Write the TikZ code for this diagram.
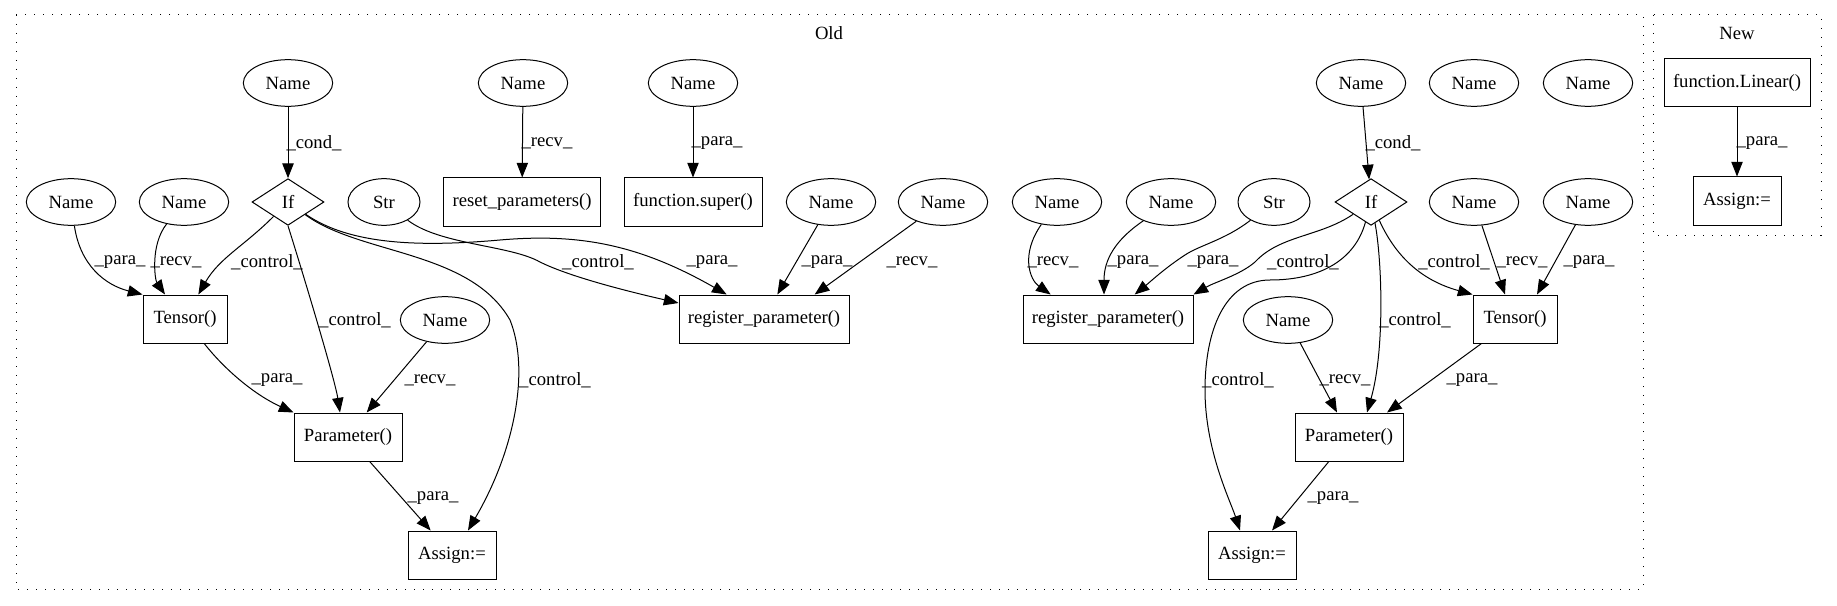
\documentclass[tikz,border=0pt]{standalone}
\usepackage{fontspec}
\setmainfont{Liberation Serif}
\usetikzlibrary{arrows.meta}
\usetikzlibrary{shapes.geometric}

\begin{document}
\begin{tikzpicture}[x=0.75pt,y=0.75pt,line width=0.75pt,font=\fontsize{14}{17}\selectfont,
    namenode/.style={draw,ellipse,minimum width=67pt,minimum height=35pt,inner sep=0pt},
    strnode/.style={draw,ellipse,minimum width=54pt,minimum height=35pt,inner sep=0pt},
    callnode/.style={draw,rectangle,minimum height=36pt,inner sep=0pt},
    ifnode/.style={draw,diamond,aspect=1.5,minimum width=54pt,minimum height=35pt,inner sep=0pt},
    flow/.style={-{Triangle[length=11pt,width=8.5pt]}},
    lbl/.style={inner sep=0pt},
    cluster/.style={dash pattern=on 1pt off 5.75pt}]

    \useasboundingbox (0,0) rectangle (1837,-606);

    % clusters
    \draw[cluster] (16,-15) rectangle (1643,-589);
    \draw[cluster] (1653,-15) rectangle (1821,-235);
    \node[lbl] (oldlabel) at (829,-33) {Old};
    \node[lbl] (newlabel) at (1737,-33) {New};

    % old, left part
    \node[namenode] (namecondl) at (288,-83) {Name};
    \node[namenode] (namereset) at (523,-83) {Name};
    \node[namenode] (namesuper) at (693,-83) {Name};
    \node[namenode] (nameparat) at (71,-202) {Name};
    \node[namenode] (namerecvt) at (184,-202) {Name};
    \node[ifnode] (ifl) at (288,-202) {If};
    \node[strnode] (strl) at (384,-202) {Str};
    \node[callnode,minimum width=118pt] (reset) at (522,-202) {reset\_parameters()};
    \node[callnode,minimum width=103.5pt] (super) at (693,-202) {function.super()};
    \node[namenode] (nameparar) at (831,-202) {Name};
    \node[namenode] (namerecvr) at (943,-202) {Name};
    \node[callnode,minimum width=63pt] (tensorl) at (185,-319) {Tensor()};
    \node[namenode] (nameprecvl) at (445,-320) {Name};
    \node[callnode,minimum width=127.5pt] (regl) at (764,-319) {register\_parameter()};
    \node[callnode,minimum width=81pt] (paraml) at (348,-437) {Parameter()};
    \node[callnode,minimum width=66pt] (assignl) at (452,-555) {Assign:=};

    % old, right part
    \node[namenode] (namecondr) at (1361,-83) {Name};
    \node[namenode] (namefreea) at (1474,-83) {Name};
    \node[namenode] (namefreeb) at (1588,-83) {Name};
    \node[namenode] (nameregrecv) at (1057,-202) {Name};
    \node[namenode] (nameregpara) at (1171,-202) {Name};
    \node[strnode] (strr) at (1274,-202) {Str};
    \node[ifnode] (ifr) at (1371,-202) {If};
    \node[namenode] (nametrecv) at (1474,-202) {Name};
    \node[namenode] (nametpara) at (1588,-202) {Name};
    \node[callnode,minimum width=127.5pt] (regr) at (1108,-319) {register\_parameter()};
    \node[namenode] (nameprecvr) at (1288,-320) {Name};
    \node[callnode,minimum width=63pt] (tensorr) at (1515,-319) {Tensor()};
    \node[callnode,minimum width=81pt] (paramr) at (1349,-437) {Parameter()};
    \node[callnode,minimum width=66pt] (assignr) at (1252,-555) {Assign:=};

    % new
    \node[callnode,minimum width=109.5pt] (linear) at (1737,-83) {function.Linear()};
    \node[callnode,minimum width=66pt] (assignn) at (1737,-201) {Assign:=};

    % edges, left
    \draw[flow] (namecondl) -- (ifl);
    \draw[flow] (namereset) -- (reset);
    \draw[flow] (namesuper) -- (super);
    \draw[flow] (nameparat) .. controls (80,-265) and (105,-285) .. (tensorl.north west);
    \draw[flow] (namerecvt) .. controls (150,-245) and (155,-280) .. ([xshift=-15pt]tensorl.north);
    \draw[flow] (ifl) to[out=-135,in=60] ([xshift=10pt]tensorl.north);
    \draw[flow] (ifl.south) .. controls (305,-280) and (335,-380) .. ([xshift=-6pt]paraml.north);
    \draw[flow] (ifl) .. controls (360,-255) and (470,-250) .. (510,-320)
        .. controls (530,-370) and (515,-450) .. ([xshift=12pt]assignl.north);
    \draw[flow] (ifl) .. controls (350,-245) and (420,-247) .. (500,-240)
        .. controls (580,-233) and (640,-245) .. ([xshift=-28pt]regl.north);
    \draw[flow] (strl) .. controls (440,-245) and (510,-245) .. (540,-262)
        .. controls (560,-272) and (600,-285) .. ([yshift=12pt]regl.west);
    \draw[flow] (nameparar) -- ([xshift=10pt]regl.north);
    \draw[flow] (namerecvr) -- ([xshift=38pt]regl.north);
    \draw[flow] (tensorl) .. controls (225,-370) and (255,-395) .. (paraml.north west);
    \draw[flow] (nameprecvl) -- ([xshift=14pt]paraml.north);
    \draw[flow] (paraml) -- ([xshift=-16pt]assignl.north);

    % edges, right
    \draw[flow] (namecondr) -- (ifr);
    \draw[flow] (nameregrecv) .. controls (1020,-255) and (1030,-280) .. ([xshift=-43pt]regr.north);
    \draw[flow] (nameregpara) .. controls (1115,-240) and (1104,-260) .. ([xshift=-3pt]regr.north);
    \draw[flow] (strr) .. controls (1225,-240) and (1200,-245) .. (1185,-255)
        .. controls (1165,-268) and (1150,-282) .. ([xshift=20pt]regr.north);
    \draw[flow] (ifr) .. controls (1320,-237) and (1280,-235) .. (1255,-262)
        .. controls (1240,-275) and (1215,-282) .. (regr.north east);
    \draw[flow] (ifr) .. controls (1355,-260) and (1320,-280) .. (1270,-280)
        .. controls (1225,-280) and (1205,-330) .. (1205,-390)
        .. controls (1205,-450) and (1230,-500) .. ([xshift=-9pt]assignr.north);
    \draw[flow] (ifr) .. controls (1382,-260) and (1385,-350) .. ([xshift=13.5pt]paramr.north);
    \draw[flow] (ifr) .. controls (1395,-255) and (1420,-280) .. (tensorr.north west);
    \draw[flow] (nametrecv) -- ([xshift=-7.5pt]tensorr.north);
    \draw[flow] (nametpara) -- ([xshift=16.5pt]tensorr.north);
    \draw[flow] (tensorr) -- ([xshift=28.5pt]paramr.north);
    \draw[flow] (nameprecvr) -- ([xshift=-9pt]paramr.north);
    \draw[flow] (paramr) -- ([xshift=15pt]assignr.north);

    % edge, new
    \draw[flow] (linear) -- (assignn);

    % labels
    \node[lbl] (lcondl) at (314,-143) {\_cond\_};
    \node[lbl] (lrecvreset) at (547,-143) {\_recv\_};
    \node[lbl] (lparasuper) at (717,-143) {\_para\_};
    \node[lbl] (lparatl) at (120,-262) {\_para\_};
    \node[lbl] (lrecvtl) at (176,-262) {\_recv\_};
    \node[lbl] (lctrltl) at (267,-262) {\_control\_};
    \node[lbl] (lctrlregl) at (598,-262) {\_control\_};
    \node[lbl] (lparastrl) at (712,-262) {\_para\_};
    \node[lbl] (lpararegl) at (827,-262) {\_para\_};
    \node[lbl] (lrecvregl) at (912,-262) {\_recv\_};
    \node[lbl] (lctrlpl) at (355,-320) {\_control\_};
    \node[lbl] (lctrlal) at (555,-380) {\_control\_};
    \node[lbl] (lparapl) at (277,-380) {\_para\_};
    \node[lbl] (lrecvpl) at (430,-380) {\_recv\_};
    \node[lbl] (lparaal) at (433,-498) {\_para\_};
    \node[lbl] (lcondr) at (1393,-143) {\_cond\_};
    \node[lbl] (lrecvregr) at (1053,-262) {\_recv\_};
    \node[lbl] (lpararegr) at (1133,-262) {\_para\_};
    \node[lbl] (lparastrr) at (1213,-262) {\_para\_};
    \node[lbl] (lctrlregr) at (1303,-262) {\_control\_};
    \node[lbl] (lctrltr) at (1454,-262) {\_control\_};
    \node[lbl] (lrecvtr) at (1522,-262) {\_recv\_};
    \node[lbl] (lparatr) at (1589,-262) {\_para\_};
    \node[lbl] (lctrlpr) at (1415,-320) {\_control\_};
    \node[lbl] (lctrlar) at (1238,-380) {\_control\_};
    \node[lbl] (lrecvpr) at (1345,-380) {\_recv\_};
    \node[lbl] (lparapr) at (1472,-380) {\_para\_};
    \node[lbl] (lparaar) at (1333,-498) {\_para\_};
    \node[lbl] (lparan) at (1762,-143) {\_para\_};
\end{tikzpicture}
\end{document}
